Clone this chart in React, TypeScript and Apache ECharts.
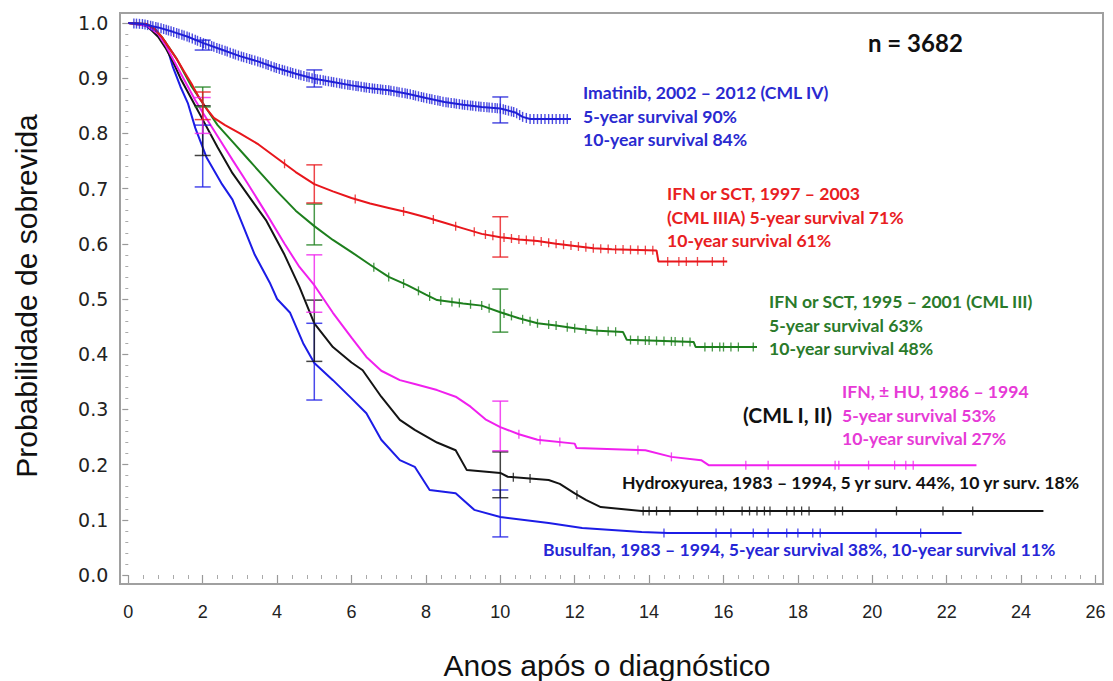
import React, { useEffect, useRef } from "react";
import * as echarts from "echarts";

type Pt = [number, number];

// Kaplan–Meier curves: [years, survival probability]
const imatinib: Pt[] = [
  [0, 1.0], [0.4, 0.998], [0.8, 0.992], [1.2, 0.984], [1.6, 0.975], [2.0, 0.964],
  [2.5, 0.952], [3.0, 0.94], [3.5, 0.93], [4.0, 0.918], [4.5, 0.908], [5.0, 0.899],
  [5.5, 0.893], [6.0, 0.887], [6.5, 0.882], [7.0, 0.878], [7.5, 0.872], [8.0, 0.864],
  [8.5, 0.857], [9.0, 0.852], [9.5, 0.848], [10.0, 0.845], [10.4, 0.838], [10.6, 0.83],
  [10.8, 0.826], [11.9, 0.826],
];
const ifnSct9703: Pt[] = [
  [0, 1.0], [0.5, 0.998], [0.7, 0.99], [0.9, 0.975], [1.1, 0.955], [1.3, 0.935],
  [1.5, 0.912], [1.7, 0.89], [1.9, 0.865], [2.1, 0.845], [2.3, 0.828], [2.6, 0.815],
  [3.0, 0.8], [3.5, 0.78], [4.0, 0.755], [4.5, 0.73], [5.0, 0.708], [5.5, 0.695],
  [6.0, 0.683], [6.5, 0.673], [7.0, 0.665], [7.5, 0.657], [8.0, 0.648], [8.5, 0.638],
  [9.0, 0.628], [9.5, 0.618], [10.0, 0.612], [10.5, 0.608], [11.0, 0.605], [11.5, 0.6],
  [12.0, 0.596], [12.5, 0.592], [13.0, 0.59], [14.2, 0.588], [14.25, 0.568], [16.1, 0.568],
];
const ifnSct9501: Pt[] = [
  [0, 1.0], [0.5, 0.998], [0.7, 0.99], [0.9, 0.975], [1.1, 0.955], [1.3, 0.935],
  [1.5, 0.91], [1.7, 0.885], [1.9, 0.865], [2.1, 0.845], [2.4, 0.815], [2.8, 0.785],
  [3.2, 0.755], [3.6, 0.725], [4.0, 0.695], [4.5, 0.66], [5.0, 0.632], [5.5, 0.607],
  [6.0, 0.585], [6.5, 0.562], [7.0, 0.54], [7.5, 0.525], [8.0, 0.508], [8.3, 0.498],
  [9.0, 0.492], [9.5, 0.488], [10.0, 0.476], [10.5, 0.465], [11.0, 0.456], [11.5, 0.452],
  [12.0, 0.447], [12.5, 0.443], [13.3, 0.44], [13.4, 0.426], [15.2, 0.422], [15.25, 0.413],
  [16.9, 0.413],
];
const ifnHu: Pt[] = [
  [0, 1.0], [0.5, 0.995], [0.8, 0.98], [1.0, 0.96], [1.2, 0.935], [1.4, 0.91],
  [1.6, 0.885], [1.8, 0.86], [2.0, 0.838], [2.4, 0.795], [2.8, 0.752], [3.2, 0.71],
  [3.7, 0.656], [4.2, 0.6], [4.6, 0.558], [5.0, 0.525], [5.5, 0.475], [6.0, 0.43],
  [6.4, 0.395], [6.8, 0.37], [7.3, 0.353], [7.7, 0.346], [8.3, 0.335], [8.8, 0.323],
  [9.2, 0.305], [9.6, 0.282], [10.0, 0.268], [10.5, 0.255], [11.0, 0.245], [12.0, 0.238],
  [12.05, 0.23], [13.9, 0.226], [14.6, 0.214], [15.4, 0.208], [15.6, 0.199], [22.8, 0.199],
];
const hydroxyurea: Pt[] = [
  [0, 1.0], [0.5, 0.995], [0.8, 0.975], [1.0, 0.955], [1.2, 0.93], [1.4, 0.9],
  [1.6, 0.875], [1.8, 0.85], [2.0, 0.825], [2.4, 0.775], [2.8, 0.728], [3.2, 0.69],
  [3.7, 0.643], [4.2, 0.58], [4.6, 0.522], [5.0, 0.456], [5.5, 0.413], [6.0, 0.385],
  [6.3, 0.371], [6.8, 0.323], [7.3, 0.281], [7.7, 0.263], [8.3, 0.24], [8.8, 0.226],
  [9.1, 0.19], [10.0, 0.185], [10.2, 0.178], [11.3, 0.172], [11.6, 0.165], [12.0, 0.148],
  [12.3, 0.136], [12.7, 0.123], [13.8, 0.116], [24.6, 0.116],
];
const busulfan: Pt[] = [
  [0, 1.0], [0.4, 0.998], [0.7, 0.985], [1.0, 0.965], [1.2, 0.92], [1.4, 0.885],
  [1.6, 0.855], [1.8, 0.81], [2.1, 0.757], [2.5, 0.71], [2.8, 0.68], [3.1, 0.63],
  [3.4, 0.58], [3.8, 0.53], [4.0, 0.5], [4.35, 0.475], [4.7, 0.42], [5.0, 0.384],
  [5.5, 0.353], [6.0, 0.32], [6.4, 0.293], [6.8, 0.245], [7.3, 0.208], [7.7, 0.196],
  [8.1, 0.154], [8.8, 0.148], [9.3, 0.118], [10.0, 0.105], [11.3, 0.094], [12.2, 0.085],
  [13.8, 0.078], [14.5, 0.076], [22.4, 0.076],
];

// censoring times (years)
const imatinibCensor = [
  0.15, 0.22, 0.3, 0.38, 0.45, 0.52, 0.6, 0.66, 0.74, 0.8, 0.88, 0.95, 1.02, 1.08, 1.15,
  1.22, 1.3, 1.36, 1.44, 1.5, 1.58, 1.64, 1.72, 1.8, 1.86, 1.94, 2.02, 2.08, 2.16, 2.24,
  2.3, 2.38, 2.45, 2.52, 2.6, 2.66, 2.74, 2.82, 2.88, 2.96, 3.04, 3.1, 3.18, 3.26, 3.32,
  3.4, 3.48, 3.55, 3.62, 3.7, 3.76, 3.84, 3.92, 3.98, 4.06, 4.14, 4.2, 4.28, 4.36, 4.42,
  4.5, 4.58, 4.64, 4.72, 4.8, 4.86, 4.94, 5.02, 5.08, 5.16, 5.24, 5.3, 5.38, 5.46, 5.52,
  5.6, 5.68, 5.74, 5.82, 5.9, 5.96, 6.04, 6.12, 6.18, 6.26, 6.34, 6.4, 6.48, 6.56, 6.62,
  6.7, 6.78, 6.84, 6.92, 7.0, 7.06, 7.14, 7.22, 7.28, 7.36, 7.44, 7.5, 7.58, 7.66, 7.72,
  7.8, 7.88, 7.94, 8.02, 8.1, 8.16, 8.24, 8.32, 8.38, 8.46, 8.54, 8.6, 8.68, 8.76, 8.82,
  8.9, 8.98, 9.04, 9.12, 9.2, 9.26, 9.34, 9.42, 9.48, 9.56, 9.64, 9.7, 9.78, 9.86, 9.92,
  10.0, 10.08, 10.14, 10.22, 10.3, 10.36, 10.44, 10.52, 10.6, 10.7, 10.8, 10.9, 11.0,
  11.1, 11.2, 11.3, 11.4, 11.5, 11.6, 11.7, 11.8,
];
const ifnSct9703Censor = [
  4.2, 6.1, 7.4, 8.2, 8.8, 9.3, 9.6, 9.8, 10.1, 10.3, 10.5, 10.7, 10.9, 11.1, 11.3, 11.5,
  11.7, 11.9, 12.1, 12.3, 12.5, 12.7, 12.9, 13.1, 13.3, 13.5, 13.7, 13.9, 14.1, 14.5,
  14.8, 15.0, 15.3, 15.7, 16.0,
];
const ifnSct9501Censor = [
  6.6, 7.0, 7.4, 7.8, 8.1, 8.4, 8.7, 8.9, 9.2, 9.5, 9.7, 10.1, 10.3, 10.6, 10.8, 11.0,
  11.3, 11.5, 11.8, 12.0, 12.3, 12.6, 12.9, 13.1, 13.5, 13.7, 13.9, 14.0, 14.2, 14.4,
  14.6, 14.7, 14.9, 15.1, 15.5, 15.7, 15.9, 16.0, 16.2, 16.4, 16.8,
];
const ifnHuCensor = [
  10.5, 11.07, 11.6, 13.7, 14.6, 16.6, 17.2, 19.0, 19.1, 19.9, 20.6, 20.9, 21.1,
];
const hydroxyureaCensor = [
  10.35, 10.8, 12.06, 13.84, 14.0, 14.2, 14.56, 15.3, 15.8, 16.0, 16.5, 16.7, 16.9, 17.1,
  17.25, 17.7, 17.9, 18.1, 18.3, 19.0, 19.2, 20.65, 21.9, 22.7,
];
const busulfanCensor = [14.4, 15.8, 16.2, 16.8, 17.2, 17.7, 18.0, 18.4, 18.6, 20.1, 21.3];

// 95% confidence bars at 2, 5 and 10 years: [years, low, high]
const imatinibCI = [[2, 0.951, 0.969], [5, 0.884, 0.915], [10, 0.819, 0.866]];
const ifnSct9703CI = [[2, 0.825, 0.875], [5, 0.674, 0.743], [10, 0.576, 0.649]];
const ifnSct9501CI = [[2, 0.848, 0.884], [5, 0.598, 0.672], [10, 0.44, 0.518]];
const ifnHuCI = [[2, 0.8, 0.865], [5, 0.476, 0.58], [10, 0.225, 0.315]];
const hydroxyureaCI = [[2, 0.76, 0.85], [5, 0.387, 0.498], [10, 0.14, 0.223]];
const busulfanCI = [[2, 0.703, 0.815], [5, 0.317, 0.456], [10, 0.069, 0.154]];

const xTicks = { min: 0, max: 26, step: 2 };
const yTicks = { min: 0, max: 1, step: 0.1 };

const nLabel = "n = 3682";
const imatinibText = "Imatinib, 2002 – 2012 (CML IV)\n5-year survival 90%\n10-year survival 84%";
const ifnSct9703Text = "IFN or SCT, 1997 – 2003\n(CML IIIA) 5-year survival 71%\n10-year survival 61%";
const ifnSct9501Text = "IFN or SCT, 1995 – 2001 (CML III)\n5-year survival 63%\n10-year survival 48%";
const ifnHuText = "IFN, ± HU, 1986 – 1994\n5-year survival 53%\n10-year survival 27%";
const cmlText = "(CML I, II)";
const hydroxyureaText = "Hydroxyurea, 1983 – 1994, 5 yr surv. 44%, 10 yr surv. 18%";
const busulfanText = "Busulfan, 1983 – 1994, 5-year survival 38%, 10-year survival 11%";
const yTitle = "Probabilidade de sobrevida";
const xTitle = "Anos após o diagnóstico";

function valueAt(curve: Pt[], t: number): number {
  for (let i = 1; i < curve.length; i++) {
    const [t0, s0] = curve[i - 1];
    const [t1, s1] = curve[i];
    if (t >= t0 && t <= t1) {
      if (t1 === t0) return s1;
      return s0 + ((s1 - s0) * (t - t0)) / (t1 - t0);
    }
  }
  return curve[curve.length - 1][1];
}

const groups = [
  { name: "Busulfan", curve: busulfan, censor: busulfanCensor, ci: busulfanCI, color: "#1c1ce6", mark: [1.3, 9] },
  { name: "Hydroxyurea", curve: hydroxyurea, censor: hydroxyureaCensor, ci: hydroxyureaCI, color: "#141414", mark: [1.3, 9] },
  { name: "IFN ± HU", curve: ifnHu, censor: ifnHuCensor, ci: ifnHuCI, color: "#f020ee", mark: [1.3, 9] },
  { name: "IFN or SCT 1995–2001", curve: ifnSct9501, censor: ifnSct9501Censor, ci: ifnSct9501CI, color: "#1d7f1d", mark: [1.3, 9] },
  { name: "IFN or SCT 1997–2003", curve: ifnSct9703, censor: ifnSct9703Censor, ci: ifnSct9703CI, color: "#e8161c", mark: [1.3, 9] },
  { name: "Imatinib", curve: imatinib, censor: imatinibCensor, ci: imatinibCI, color: "#1f1fd8", mark: [1.4, 10] },
];

export default function App() {
  const ref = useRef<HTMLDivElement>(null);
  useEffect(() => {
    if (!ref.current) return;
    const chart = echarts.init(ref.current, null, { renderer: "svg" });
    const series: any[] = [];
    groups.forEach((g, gi) => {
      series.push({
        name: g.name,
        type: "line",
        data: g.curve,
        showSymbol: false,
        symbol: "none",
        lineStyle: { color: g.color, width: 2 },
        z: 3 + gi * 0.1,
      });
      series.push({
        name: g.name + " censored",
        type: "scatter",
        data: g.censor.map((t) => [t, valueAt(g.curve, t)]),
        symbol: "rect",
        symbolSize: g.mark,
        itemStyle: { color: g.color, opacity: 0.8 },
        z: 3 + gi * 0.1,
      });
      series.push({
        name: g.name + " CI",
        type: "custom",
        data: g.ci,
        encode: { x: 0, y: [1, 2] },
        z: 4,
        renderItem: (_params: any, api: any) => {
          const x = api.value(0);
          const lo = api.coord([x, api.value(1)]);
          const hi = api.coord([x, api.value(2)]);
          const w = 8;
          const style = { stroke: g.color, lineWidth: 1.5, opacity: 0.8 };
          return {
            type: "group",
            children: [
              { type: "line", shape: { x1: lo[0], y1: lo[1], x2: hi[0], y2: hi[1] }, style },
              { type: "line", shape: { x1: lo[0] - w, y1: lo[1], x2: lo[0] + w, y2: lo[1] }, style },
              { type: "line", shape: { x1: hi[0] - w, y1: hi[1], x2: hi[0] + w, y2: hi[1] }, style },
            ],
          };
        },
      });
    });

    const annFont = "Lato, 'Open Sans', sans-serif";
    const ann = (text: string, x: number, y: number, fill: string, size = 17.6) => ({
      type: "text",
      x,
      y,
      z: 10,
      style: {
        text,
        fill,
        fontFamily: annFont,
        fontWeight: "bold",
        fontSize: size,
        lineHeight: 23.5,
        verticalAlign: "middle",
        align: "left",
      },
    });

    chart.setOption({
      animation: false,
      backgroundColor: "#ffffff",
      grid: { left: 128.3, right: 17.5, top: 23, bottom: 106, containLabel: false },
      xAxis: {
        type: "value",
        min: xTicks.min,
        max: xTicks.max,
        interval: xTicks.step,
        offset: 9,
        axisLine: { show: false },
        axisTick: { show: true, length: 8, lineStyle: { color: "#999", width: 1.2 } },
        minorTick: { show: true, splitNumber: 5, length: 4, lineStyle: { color: "#aaa" } },
        splitLine: { show: false },
        axisLabel: {
          color: "#222",
          fontSize: 18,
          fontFamily: "'Liberation Sans', Arial, sans-serif",
          margin: 19,
        },
      },
      yAxis: {
        type: "value",
        min: yTicks.min,
        max: yTicks.max,
        interval: yTicks.step,
        offset: 8,
        axisLine: { show: false },
        axisTick: { show: true, length: 6, lineStyle: { color: "#999", width: 1.2 } },
        minorTick: { show: true, splitNumber: 5, length: 3, lineStyle: { color: "#aaa" } },
        splitLine: { show: false },
        axisLabel: {
          color: "#222",
          fontSize: 19,
          fontFamily: "'DejaVu Sans', 'Liberation Sans', sans-serif",
          margin: 12,
          formatter: (v: number) => v.toFixed(1),
        },
      },
      graphic: [
        {
          type: "rect",
          shape: { x: 120, y: 13, width: 983, height: 571 },
          style: { fill: "none", stroke: "#a0a0a0", lineWidth: 2 },
          z: 1,
          silent: true,
        },
        {
          type: "text",
          x: 26,
          y: 296,
          rotation: Math.PI / 2,
          style: {
            text: yTitle,
            fill: "#111",
            fontSize: 30,
            fontFamily: "'Liberation Sans', Arial, sans-serif",
            align: "center",
            verticalAlign: "middle",
          },
        },
        {
          type: "text",
          x: 607,
          y: 665,
          style: {
            text: xTitle,
            fill: "#111",
            fontSize: 30,
            fontFamily: "'Liberation Sans', Arial, sans-serif",
            align: "center",
            verticalAlign: "middle",
          },
        },
        ann(nLabel, 868, 42, "#111", 24),
        ann(imatinibText, 583, 116, "#2a2ad0"),
        ann(ifnSct9703Text, 667, 217, "#e8201f"),
        ann(ifnSct9501Text, 769, 325, "#2a7a2a"),
        ann(ifnHuText, 842, 415, "#e63ad6"),
        ann(cmlText, 743, 414, "#111", 21),
        ann(hydroxyureaText, 622, 482, "#111"),
        ann(busulfanText, 543, 549, "#2626d6"),
      ],
      series,
    });
    return () => chart.dispose();
  }, []);
  return (
    <div
      ref={ref}
      style={{ position: "fixed", left: 0, top: 0, width: 1113, height: 681, background: "#fff" }}
    />
  );
}
